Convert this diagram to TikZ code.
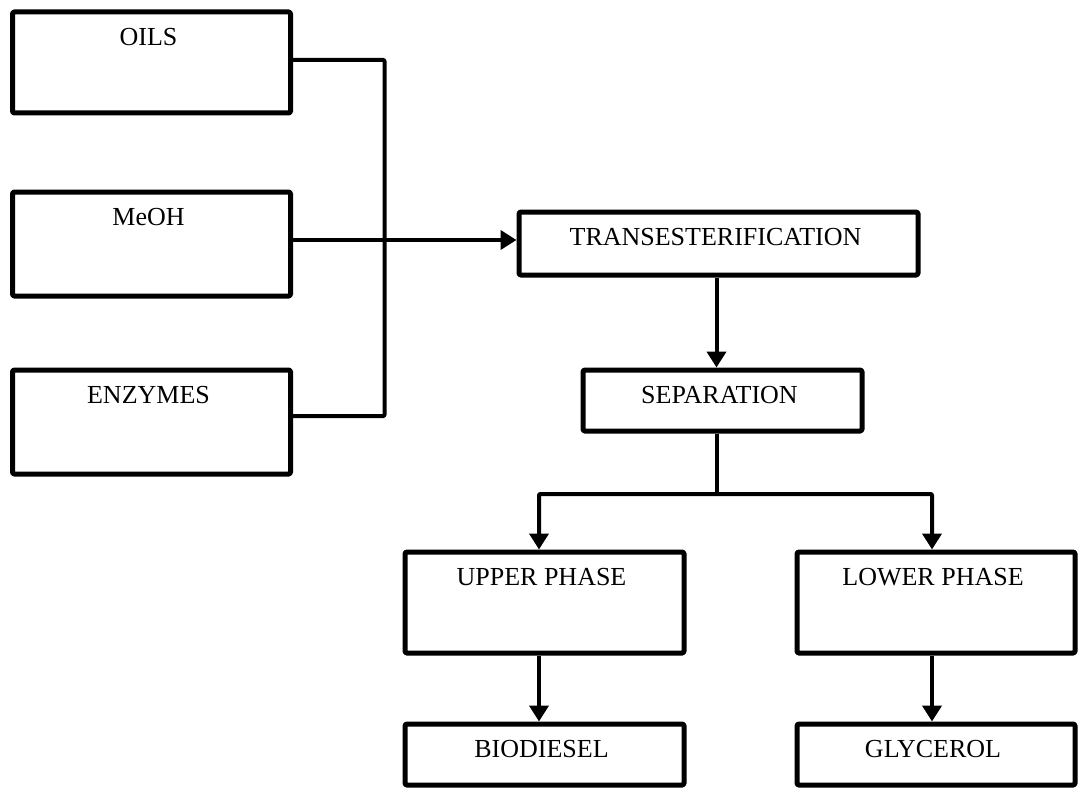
\documentclass[tikz,border=0pt]{standalone}
\usepackage{fontspec}
\setmainfont{Liberation Serif}
\usetikzlibrary{arrows.meta}
\begin{document}
\begin{tikzpicture}[x=1pt,y=-1pt,
  box/.style={draw=black, line width=5pt, rounded corners=1.5pt, fill=white,
    inner sep=0pt, outer sep=2.5pt, line join=round},
  lbl/.style={anchor=center, yshift=-27.5pt, xshift=-3pt, inner sep=0pt,
    font=\fontsize{26}{30}\selectfont},
  wire/.style={draw=black, line width=4pt, line join=round, rounded corners=1pt},
  flow/.style={wire, -{Triangle[width=19pt,length=16pt]}}]
\useasboundingbox (0,0) rectangle (1078,797);
% feed boxes
\node[box, minimum width=278pt, minimum height=101pt, label={[lbl]north:OILS}] (oils) at (151.5,62.5) {};
\node[box, minimum width=278pt, minimum height=104pt, label={[lbl]north:MeOH}] (meoh) at (151.5,244) {};
\node[box, minimum width=278pt, minimum height=104pt, label={[lbl]north:ENZYMES}] (enz) at (151.5,422) {};
% process boxes
\node[box, minimum width=399pt, minimum height=63pt, label={[lbl]north:TRANSESTERIFICATION}] (trans) at (718.5,243.5) {};
\node[box, minimum width=279pt, minimum height=61pt, label={[lbl]north:SEPARATION}] (sep) at (722.5,400.5) {};
\node[box, minimum width=279pt, minimum height=101pt, label={[lbl]north:UPPER PHASE}] (upper) at (544.5,602.5) {};
\node[box, minimum width=278pt, minimum height=101pt, label={[lbl]north:LOWER PHASE}] (lower) at (936,602.5) {};
\node[box, minimum width=279pt, minimum height=61pt, label={[lbl]north:BIODIESEL}] (bio) at (544.5,754.5) {};
\node[box, minimum width=278pt, minimum height=61pt, label={[lbl]north:GLYCEROL}] (gly) at (936,754.5) {};
% junction points
\coordinate (bus) at (384.5,240);
\coordinate (split) at (717,494);
% connectors
\draw[wire] ([yshift=2.5pt]oils.east) -| (bus) |- ([yshift=6pt]enz.east);
\draw[flow] ([yshift=4pt]meoh.east) -- ([yshift=4pt]meoh.east -| trans.west);
\draw[flow] ([xshift=-2pt]trans.south) -- ([xshift=-2pt]trans.south |- sep.north);
\draw[wire] (sep.south -| split) -- (split);
\draw[flow] (split) -| ([xshift=-5.5pt]upper.north);
\draw[flow] (split) -| ([xshift=-4pt]lower.north);
\draw[flow] ([xshift=-5.5pt]upper.south) -- ([xshift=-5.5pt]bio.north);
\draw[flow] ([xshift=-4pt]lower.south) -- ([xshift=-4pt]gly.north);
\end{tikzpicture}
\end{document}
